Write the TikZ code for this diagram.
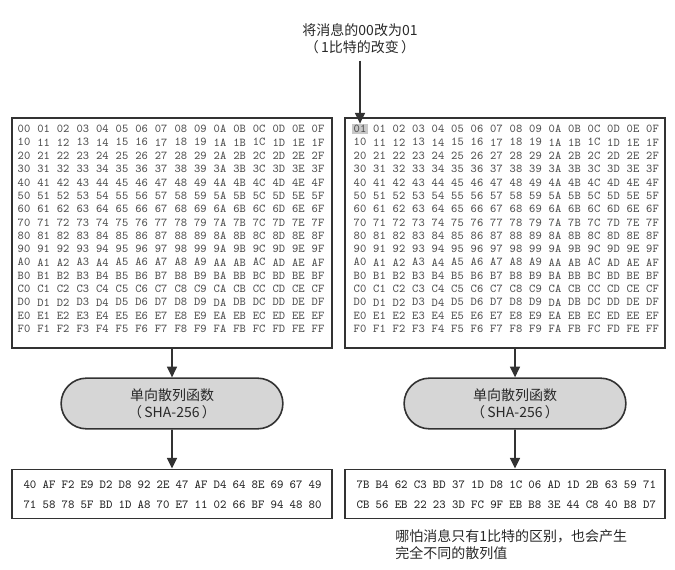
\documentclass[tikz,border=0pt]{standalone}
\usepackage{fontspec}
\setmainfont{Noto Sans CJK SC}
\usetikzlibrary{arrows.meta, positioning, shapes.misc, backgrounds}
\definecolor{framecolor}{RGB}{50, 50, 50}
\definecolor{hexcolor}{RGB}{80, 80, 80}
\definecolor{hashcolor}{RGB}{35, 35, 35}
\definecolor{funccolor}{RGB}{214, 214, 214}
\definecolor{markcolor}{RGB}{200, 200, 200}
\definecolor{notecolor}{RGB}{40, 40, 40}
\newcommand{\hexdigit}[1]{\ifcase#1 0\or 1\or 2\or 3\or 4\or 5\or 6\or 7\or 8\or 9\or A\or B\or C\or D\or E\or F\fi}

\begin{document}
\begin{tikzpicture}[
    x=0.75pt, y=-0.75pt,
    >={Triangle[width=7.5pt, length=8pt]},
    arrow/.style={->, line width=1.2pt, draw=framecolor},
    msgbox/.style={rectangle, draw=framecolor, line width=1.2pt, inner sep=0pt, minimum width=240pt},
    hex/.style={font=\ttfamily\fontsize{9}{10}\selectfont, text=hexcolor, inner sep=1pt},
    hashhex/.style={hex, font=\ttfamily\fontsize{9.2}{10}\selectfont, text=hashcolor},
    func/.style={rounded rectangle, draw=framecolor, line width=1.2pt, fill=funccolor, minimum width=173pt, minimum height=38pt, align=center, font=\fontsize{10.5}{12.8}\selectfont, text=notecolor},
    note/.style={font=\fontsize{10.5}{12.8}\selectfont, text=notecolor, inner sep=0pt}
]
\useasboundingbox (0, 0) rectangle (675, 570);

% Messages
\node[msgbox, minimum height=172.5pt] (lmsg) at (172, 233) {};
\node[msgbox, minimum height=172.5pt] (rmsg) at (505, 233) {};
\foreach \r in {0,...,15}
  \foreach \c in {0,...,15} {
    \node[hex] (l-\r-\c) at (24+19.6*\c, 129+13.33*\r) {\hexdigit{\r}\hexdigit{\c}};
    \node[hex] (r-\r-\c) at (360+19.5*\c, 129+13.33*\r) {\ifnum\r\c=0 01\else\hexdigit{\r}\hexdigit{\c}\fi};
  }
\begin{scope}[on background layer]
\fill[markcolor] (r-0-0.south west) rectangle (r-0-0.north east);
\end{scope}

% Changed byte
\node[note, align=center] (change) at (360, 38.5) {将消息的00改为01\\（\,1比特的改变\,）};
\draw[arrow, shorten <=5pt] (change) -- (r-0-0.north);

% Hash functions
\node[func] (lfunc) at (172, 403.5) {单向散列函数\\（\,SHA-256\,）};
\node[func] (rfunc) at (515, 403.5) {单向散列函数\\（\,SHA-256\,）};

% Hash values
\node[msgbox, minimum height=37pt] (lhash) at (172, 494) {};
\node[msgbox, minimum height=37pt] (rhash) at (505, 494) {};
\foreach \h [count=\c from 0] in {40,AF,F2,E9,D2,D8,92,2E,47,AF,D4,64,8E,69,67,49}
  \node[hashhex] (lh-0-\c) at (30+19*\c, 485) {\h};
\foreach \h [count=\c from 0] in {71,58,78,5F,BD,1D,A8,70,E7,11,02,66,BF,94,48,80}
  \node[hashhex] (lh-1-\c) at (30+19*\c, 505) {\h};
\foreach \h [count=\c from 0] in {7B,B4,62,C3,BD,37,1D,D8,1C,06,AD,1D,2B,63,59,71}
  \node[hashhex] (rh-0-\c) at (363+19.1*\c, 485) {\h};
\foreach \h [count=\c from 0] in {CB,56,EB,22,23,3D,FC,9F,EB,B8,3E,44,C8,40,B8,D7}
  \node[hashhex] (rh-1-\c) at (363+19.1*\c, 505) {\h};

% Arrows
\draw[arrow] (lmsg) -- (lfunc);
\draw[arrow] (lfunc) -- (lhash);
\draw[arrow] (rfunc |- rmsg.south) -- (rfunc);
\draw[arrow] (rfunc) -- (rfunc |- rhash.north);

% Note
\node[note, anchor=west, align=left] (result) at (395, 545) {哪怕消息只有1比特的区别，也会产生\\完全不同的散列值};

\end{tikzpicture}
\end{document}
